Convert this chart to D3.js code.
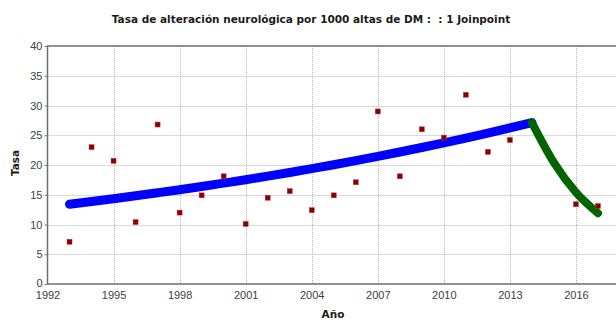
<!DOCTYPE html>
<html>
<head>
<meta charset="utf-8">
<script src="https://cdn.jsdelivr.net/npm/d3@7"></script>
<style>
  html, body { margin: 0; padding: 0; background: #fff; }
  svg { display: block; }
</style>
</head>
<body>
<svg id="chart" width="616" height="320"></svg>
<script>
// Observed rates per 1000 discharges
const obsYears = [1993, 1994, 1995, 1996, 1997, 1998, 1999, 2000, 2001, 2002, 2003, 2004,
                  2005, 2006, 2007, 2008, 2009, 2010, 2011, 2012, 2013, 2016, 2017];
const obsRates = [7.1, 23.0, 20.7, 10.4, 26.8, 12.0, 14.9, 18.1, 10.1, 14.5, 15.6, 12.4,
                  14.9, 17.1, 29.0, 18.1, 26.0, 24.6, 31.8, 22.2, 24.2, 13.4, 13.1];

// Modelled trend, segment 1 (1993-2014)
const seg1Years = [1993, 1994, 1995, 1996, 1997, 1998, 1999, 2000, 2001, 2002, 2003,
                   2004, 2005, 2006, 2007, 2008, 2009, 2010, 2011, 2012, 2013, 2014];
const seg1Rates = [13.4, 13.86, 14.33, 14.82, 15.33, 15.85, 16.39, 16.95, 17.53, 18.13, 18.75,
                   19.39, 20.05, 20.74, 21.45, 22.18, 22.94, 23.72, 24.53, 25.37, 26.24, 27.13];

// Modelled trend, segment 2 (2014-2017)
const seg2Years = [2014, 2015, 2016, 2017];
const seg2Rates = [27.13, 20.4, 15.4, 11.9];

const xTicks = [1992, 1995, 1998, 2001, 2004, 2007, 2010, 2013, 2016];
const yTicks = [0, 5, 10, 15, 20, 25, 30, 35, 40];

const titleText = "Tasa de alteración neurológica por 1000 altas de DM :  : 1 Joinpoint";
const xTitle = "Año";
const yTitle = "Tasa";

const svg = d3.select("#chart");
const plotLeft = 47.5, plotRight = 620, plotTop = 46, plotBottom = 284;

const x = d3.scaleLinear().domain([1992, 2018]).range([plotLeft, plotRight]);
const y = d3.scaleLinear().domain([0, 40]).range([plotBottom, plotTop]);

// Grid
const grid = svg.append("g").attr("stroke", "#b5b5b5").attr("stroke-width", 1)
  .attr("stroke-dasharray", "1,1");
grid.selectAll("line.v").data(xTicks.slice(1)).join("line")
  .attr("x1", d => Math.round(x(d)) + 0.5).attr("x2", d => Math.round(x(d)) + 0.5)
  .attr("y1", plotTop).attr("y2", plotBottom);
grid.selectAll("line.h").data(yTicks.slice(1, -1)).join("line")
  .attr("x1", plotLeft).attr("x2", plotRight)
  .attr("y1", d => Math.round(y(d)) + 0.5).attr("y2", d => Math.round(y(d)) + 0.5);

// Axes
const xAxis = d3.axisBottom(x).tickValues(xTicks).tickFormat(d3.format("d"))
  .tickSize(0).tickPadding(7);
const yAxis = d3.axisLeft(y).tickValues(yTicks).tickSize(3).tickPadding(2);

const gx = svg.append("g").attr("transform", `translate(0,${plotBottom})`).call(xAxis);
const gy = svg.append("g").attr("transform", `translate(${plotLeft},0)`).call(yAxis);
[gx, gy].forEach(g => {
  g.select(".domain").remove();
  g.selectAll("text").attr("font-family", "Liberation Sans, Arial, sans-serif")
    .attr("font-size", 11).attr("fill", "#404040");
  g.selectAll("line").attr("stroke", "#777");
});
// lift the zero label a touch so it clears the first year label
gy.selectAll(".tick").filter(d => d === 0).select("text").attr("dy", "0.2em");

// Frame: top, left, bottom
svg.append("path")
  .attr("d", `M${plotRight},${plotTop}H${plotLeft}V${plotBottom}H${plotRight}`)
  .attr("fill", "none").attr("stroke", "#6e6e6e").attr("stroke-width", 1.5);

// Trend segments
const line = d3.line().x(d => x(d[0])).y(d => y(d[1])).curve(d3.curveMonotoneX);
svg.append("path")
  .datum(d3.zip(seg1Years, seg1Rates))
  .attr("d", line).attr("fill", "none").attr("stroke", "#0000ff")
  .attr("stroke-width", 9).attr("stroke-linecap", "round").attr("stroke-linejoin", "round");
svg.append("path")
  .datum(d3.zip(seg2Years, seg2Rates))
  .attr("d", line).attr("fill", "none").attr("stroke", "#006400")
  .attr("stroke-width", 8).attr("stroke-linecap", "round").attr("stroke-linejoin", "round");

// Observed points
const sz = 5;
svg.append("g").selectAll("rect").data(d3.zip(obsYears, obsRates)).join("rect")
  .attr("x", d => x(d[0]) - sz / 2).attr("y", d => y(d[1]) - sz / 2)
  .attr("width", sz).attr("height", sz)
  .attr("fill", "#8b0000").attr("stroke", "#b04040").attr("stroke-width", 0.5);

// Titles
svg.append("text").attr("x", 311).attr("y", 23).attr("text-anchor", "middle")
  .style("white-space", "pre")
  .attr("font-family", "DejaVu Sans, Verdana, sans-serif").attr("font-weight", "bold")
  .attr("font-size", 10.5).attr("fill", "#1a1a1a").text(titleText);
svg.append("text").attr("x", 333).attr("y", 318).attr("text-anchor", "middle")
  .attr("font-family", "DejaVu Sans, Verdana, sans-serif").attr("font-weight", "bold")
  .attr("font-size", 10.5).attr("fill", "#1a1a1a").text(xTitle);
svg.append("text").attr("transform", "translate(19,163) rotate(-90)").attr("text-anchor", "middle")
  .attr("font-family", "DejaVu Sans, Verdana, sans-serif").attr("font-weight", "bold")
  .attr("font-size", 10.5).attr("fill", "#1a1a1a").text(yTitle);
</script>
</body>
</html>
